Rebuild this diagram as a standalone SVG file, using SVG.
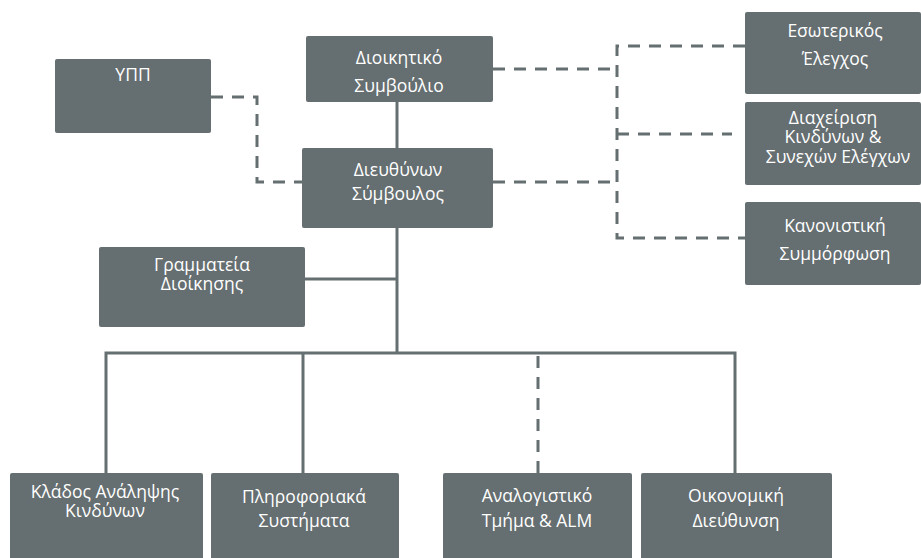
<svg xmlns="http://www.w3.org/2000/svg" width="921" height="558" viewBox="0 0 921 558">
<style>
.box{fill:#656e70;}
.t{fill:#ffffff;font-family:"Open Sans","DejaVu Sans",sans-serif;font-size:17.5px;text-anchor:middle;}
.ln{fill:none;stroke:#656e70;stroke-width:3;}
.dl{fill:none;stroke:#656e70;stroke-width:3;stroke-dasharray:12 9;}
</style>
<rect width="921" height="558" fill="#ffffff"/>
<g id="connectors">
<path class="ln" d="M397,102 V148"/>
<path class="ln" d="M397,228 V353"/>
<path class="ln" d="M305,279 H397"/>
<path class="ln" d="M106,473 V353 H735 V473"/>
<path class="ln" d="M303,353 V473"/>
<path class="dl" d="M538,356 V473"/>
<path class="dl" d="M211,97 H257 V182 H302"/>
<path class="dl" d="M493,69 H617"/>
<path class="dl" d="M493,182 H617"/>
<path class="dl" d="M745,46 H617 V238 H745"/>
<path class="dl" d="M617,134 H732"/>
</g>
<g id="ypp"><rect class="box" x="55" y="59" width="156" height="74" rx="2"/><text class="t" x="133" y="81">ΥΠΠ</text></g>
<g id="board"><rect class="box" x="306" y="36" width="187" height="66" rx="2"/><text class="t" x="399" y="64">Διοικητικό</text><text class="t" x="399" y="92">Συμβούλιο</text></g>
<g id="ceo"><rect class="box" x="302" y="148" width="191" height="80" rx="2"/><text class="t" x="398" y="176">Διευθύνων</text><text class="t" x="398" y="200">Σύμβουλος</text></g>
<g id="internal-audit"><rect class="box" x="745" y="12" width="176" height="82" rx="2"/><text class="t" x="835" y="37">Εσωτερικός</text><text class="t" x="835" y="65">Έλεγχος</text></g>
<g id="risk"><rect class="box" x="745" y="102" width="176" height="83" rx="2"/><text class="t" x="833" y="124">Διαχείριση</text><text class="t" x="833" y="143">Κινδύνων &amp;</text><text class="t" x="838" y="163">Συνεχών Ελέγχων</text></g>
<g id="compliance"><rect class="box" x="745" y="202" width="176" height="83" rx="2"/><text class="t" x="835" y="232">Κανονιστική</text><text class="t" x="835" y="260">Συμμόρφωση</text></g>
<g id="secretariat"><rect class="box" x="99" y="247" width="206" height="80" rx="2"/><text class="t" x="202" y="271">Γραμματεία</text><text class="t" x="202" y="290">Διοίκησης</text></g>
<g id="underwriting"><rect class="box" x="10" y="473" width="193" height="90" rx="2"/><text class="t" x="105" y="498">Κλάδος Ανάληψης</text><text class="t" x="105" y="517">Κινδύνων</text></g>
<g id="it"><rect class="box" x="211" y="473" width="188" height="90" rx="2"/><text class="t" x="304" y="503">Πληροφοριακά</text><text class="t" x="304" y="527">Συστήματα</text></g>
<g id="actuarial"><rect class="box" x="443" y="473" width="189" height="90" rx="2"/><text class="t" x="537" y="502">Αναλογιστικό</text><text class="t" x="537" y="527">Τμήμα &amp; ALM</text></g>
<g id="finance"><rect class="box" x="641" y="473" width="191" height="90" rx="2"/><text class="t" x="736" y="502">Οικονομική</text><text class="t" x="736" y="527">Διεύθυνση</text></g>
</svg>
